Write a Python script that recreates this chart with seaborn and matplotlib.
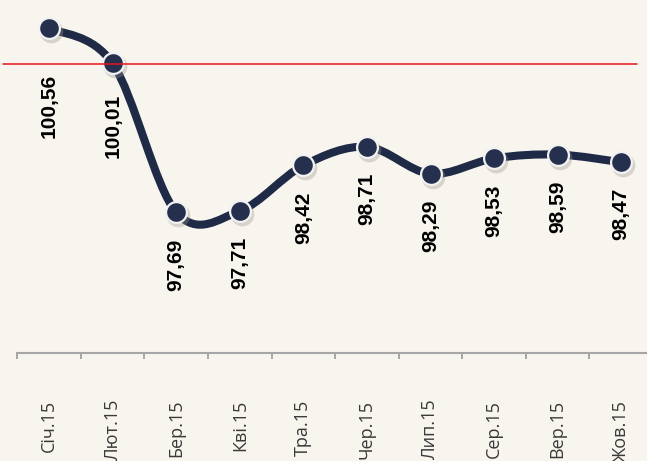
import numpy as np
import pandas as pd
import seaborn as sns
import matplotlib.pyplot as plt
from matplotlib.path import Path
from matplotlib.patches import PathPatch
from matplotlib import transforms

# monthly index, 2015 (previous month = 100)
months = ["Січ.15", "Лют.15", "Бер.15", "Кві.15", "Тра.15",
          "Чер.15", "Лип.15", "Сер.15", "Вер.15", "Жов.15"]
index_values = [100.56, 100.01, 97.69, 97.71, 98.42,
                98.71, 98.29, 98.53, 98.59, 98.47]
baseline = 100

df = pd.DataFrame({"month": months, "value": index_values})
df["pos"] = np.arange(len(df))
df["label"] = [f"{v:.2f}".replace(".", ",") for v in df["value"]]

bg = "#f8f4ee"
navy = "#1f2a47"
sns.set_theme(style="white", rc={"axes.facecolor": bg, "figure.facecolor": bg})

fig = plt.figure(figsize=(6.47, 4.61), dpi=100)
ax = fig.add_axes([17.3 / 647, 108.3 / 461, 635.7 / 647, 352.7 / 461])
ax.set_xlim(-0.5, len(df) - 0.5)
ax.set_ylim(95.5, 101.0)

# smoothed line (Bezier through the points, like Excel "smoothed line")
x = df["pos"].to_numpy(float)
y = df["value"].to_numpy(float)
verts = [(x[0], y[0])]
codes = [Path.MOVETO]
n = len(x)
for i in range(n - 1):
    a = max(i - 1, 0)
    b = min(i + 2, n - 1)
    c1 = (x[i] + (x[i + 1] - x[a]) / 6, y[i] + (y[i + 1] - y[a]) / 6)
    c2 = (x[i + 1] - (x[b] - x[i]) / 6, y[i + 1] - (y[b] - y[i]) / 6)
    verts += [c1, c2, (x[i + 1], y[i + 1])]
    codes += [Path.CURVE4] * 3
curve = PathPatch(Path(verts, codes), facecolor="none", edgecolor=navy,
                  lw=5.8, capstyle="round", joinstyle="round", zorder=2)
ax.add_patch(curve)

# marker shadow, then markers
shadow = transforms.offset_copy(ax.transData, fig=fig, x=2, y=-3, units="dots")
ax.scatter(df["pos"], df["value"], s=290, color="#9a958f", alpha=0.35,
           linewidths=0, transform=shadow, zorder=2.5)
sns.scatterplot(data=df, x="pos", y="value", ax=ax, s=225, color="#25304f",
                edgecolor="#f2f2f2", linewidth=1.6, zorder=3, legend=False)

ax.axhline(baseline, xmin=-0.0225, xmax=0.975, color="#e8141c", lw=1.1,
           clip_on=False, zorder=4)

# value labels under the points
label_gap_px = [46, 30] + [26] * (n - 2)
for xi, yi, lab, gap in zip(df["pos"], df["value"], df["label"], label_gap_px):
    ax.annotate(lab, (xi, yi), xytext=(0, -gap), textcoords="offset pixels",
                rotation=90, ha="center", va="top", fontsize=15,
                fontweight="bold", family="Liberation Sans", color="black")

ax.set_xticks(df["pos"])
ax.set_xticklabels(df["month"], rotation=90, fontsize=13,
                   family="Open Sans", color="#3a3a3a")
ax.set_xticks(np.arange(-0.5, n, 1), minor=True)
ax.tick_params(axis="x", which="major", length=0, pad=33.8)
ax.tick_params(axis="x", which="minor", bottom=True, length=4.3, width=1.4,
               color="#a6a6a6", direction="out")
ax.set_yticks([])
ax.set_xlabel("")
ax.set_ylabel("")
for side in ["left", "top", "right"]:
    ax.spines[side].set_visible(False)
ax.spines["bottom"].set_color("#a6a6a6")
ax.spines["bottom"].set_linewidth(1.5)

fig.savefig("out.png", dpi=100)
